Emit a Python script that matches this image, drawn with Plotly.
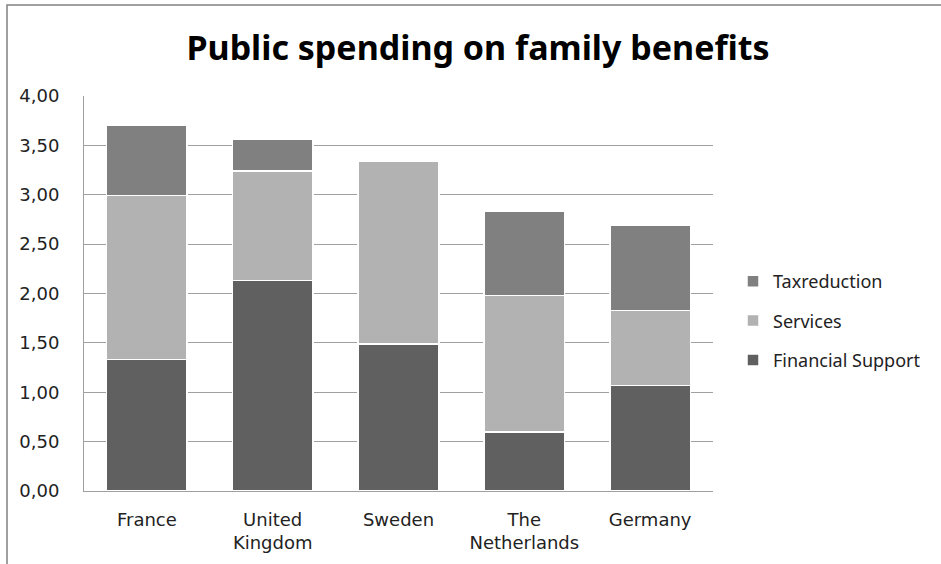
import plotly.graph_objects as go

countries = ["France", "United<br>Kingdom", "Sweden", "The<br>Netherlands", "Germany"]
financial_support = [1.33, 2.13, 1.49, 0.60, 1.07]
services = [1.66, 1.11, 1.85, 1.38, 0.76]
taxreduction = [0.71, 0.32, 0.00, 0.85, 0.86]

series = [
    ("Financial Support", financial_support, "#606060", 3),
    ("Services", services, "#b2b2b2", 2),
    ("Taxreduction", taxreduction, "#808080", 1),
]

fig = go.Figure()
for name, vals, col, rank in series:
    fig.add_trace(go.Bar(
        x=countries, y=vals, name=name, legendgroup=name, legendrank=rank,
        marker=dict(color=col, line=dict(color="white", width=1.5)),
    ))

W, H = 941, 564
L, R, T, B = 84, 228, 96, 73
pw, ph = W - L - R, H - T - B

fig.update_layout(
    width=W, height=H,
    barmode="stack", bargap=0.36,
    separators=",.",
    paper_bgcolor="white", plot_bgcolor="white",
    margin=dict(l=L, r=R, t=T, b=B),
    title=dict(text="<b>Public spending on family benefits</b>",
               x=(478 - L) / pw, xanchor="center", xref="paper",
               y=1 - 48 / H, yanchor="middle", yref="container",
               font=dict(family="Noto Sans", size=34, color="black")),
    font=dict(family="DejaVu Sans", color="#222222"),
    xaxis=dict(showline=True, linecolor="#a0a0a0", linewidth=1, ticks="",
               ticklabelstandoff=12,
               tickfont=dict(size=18, color="#222222"), showgrid=False),
    yaxis=dict(range=[0, 4], dtick=0.5, tickformat=".2f",
               showgrid=True, gridcolor="#a0a0a0", gridwidth=1,
               showline=True, linecolor="#a0a0a0", linewidth=1,
               ticks="", ticklabelstandoff=20,
               tickfont=dict(size=18, color="#222222"), zeroline=False),
    legend=dict(traceorder="grouped", tracegroupgap=13,
                x=(733 - L) / pw, xanchor="left",
                y=(H - B - 321) / ph, yanchor="middle",
                font=dict(family="Noto Sans", size=18, color="#222222"),
                itemwidth=30),
    shapes=[dict(type="rect", xref="paper", yref="paper",
                 x0=(7 - L) / pw, x1=(960 - L) / pw,
                 y0=(H - B - 580) / ph, y1=(H - B - 5) / ph,
                 line=dict(color="#808080", width=1.5), fillcolor="rgba(0,0,0,0)")],
)

fig.write_html("out.html")
